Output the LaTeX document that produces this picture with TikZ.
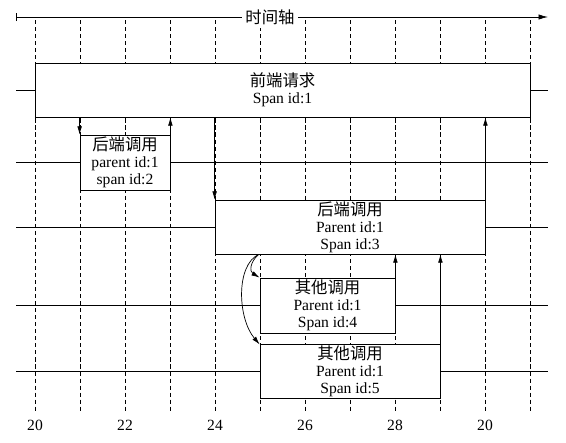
\documentclass[tikz,border=0pt]{standalone}
\usepackage{fontspec}
\setmainfont{Liberation Serif}
\newfontfamily\cjk{Noto Sans CJK SC}[Scale=1.05]
\usepackage{tikz}
\usetikzlibrary{arrows.meta, calc}
\tikzset{
  spanbox/.style={draw, fill=white, line width=0.7pt, align=center, inner sep=1pt},
  gridline/.style={dash pattern=on 3.5pt off 2.5pt, line width=0.6pt},
  level/.style={line width=0.6pt},
  call/.style={line width=0.6pt, -{Latex[length=7pt,width=4pt]}},
}

\begin{document}
\begin{tikzpicture}[x=0.03cm, y=-0.03cm, font=\fontsize{13.3}{14.5}\selectfont]
  \useasboundingbox (0,0) rectangle (566,442);

  % Grid
  \foreach \i in {0,...,11}
    \draw[gridline] ({35+45*\i},20) -- ({35+45*\i},413);

  % Time axis
  \coordinate (t0) at (16,17);
  \coordinate (t1) at (548,17);
  \draw[line width=0.6pt, {Bar[width=7pt]}-{Latex[length=8pt,width=4.5pt]}] (t0) -- (t1);
  \node[fill=white, inner xsep=3pt] (axis) at (270,17) {\cjk 时间轴};

  % Spans
  \node[spanbox, minimum width=14.85cm, minimum height=1.62cm] (front) at (282.5,90) {{\cjk 前端请求}\\Span id:1};
  \node[spanbox, minimum width=2.7cm, minimum height=1.65cm] (back1) at (125,162.5) {{\cjk 后端调用}\\parent id:1\\span id:2};
  \node[spanbox, minimum width=8.1cm, minimum height=1.62cm] (back2) at (350,227) {{\cjk 后端调用}\\Parent id:1\\Span id:3};
  \node[spanbox, minimum width=4.05cm, minimum height=1.65cm] (other1) at (327.5,305.5) {{\cjk 其他调用}\\Parent id:1\\Span id:4};
  \node[spanbox, minimum width=5.4cm, minimum height=1.53cm] (other2) at (350,371.5) {{\cjk 其他调用}\\Parent id:1\\Span id:5};

  % Levels
  \foreach \n in {front,back1,back2,other1,other2} {
    \draw[level] (t0 |- \n.west) -- (\n.west);
    \draw[level] (\n.east) -- (t1 |- \n.east);
  }

  % Calls
  \draw[call] (front.south -| back1.west) -- (back1.north west);
  \draw[call] (back1.north east) -- (front.south -| back1.east);
  \draw[call] (front.south -| back2.west) -- (back2.north west);
  \draw[call] (back2.north east) -- (front.south -| back2.east);
  \draw[call] (other1.north east) -- (back2.south -| other1.east);
  \draw[call] (other2.north east) -- (back2.south -| other2.east);
  \coordinate (fork) at ($(back2.south -| other1.west)+(-1,0)$);
  \draw[call] (fork) .. controls +(-9,8) and +(-10,-6) .. (other1.north west);
  \draw[call] (fork) .. controls +(-23,11) and +(-22,-26) .. (other2.north west);

  % Scale
  \foreach \x/\t in {0/20,2/22,4/24,6/26,8/28,10/20}
    \node (lab\x) at ({35+45*\x},425) {\t};
\end{tikzpicture}
\end{document}
